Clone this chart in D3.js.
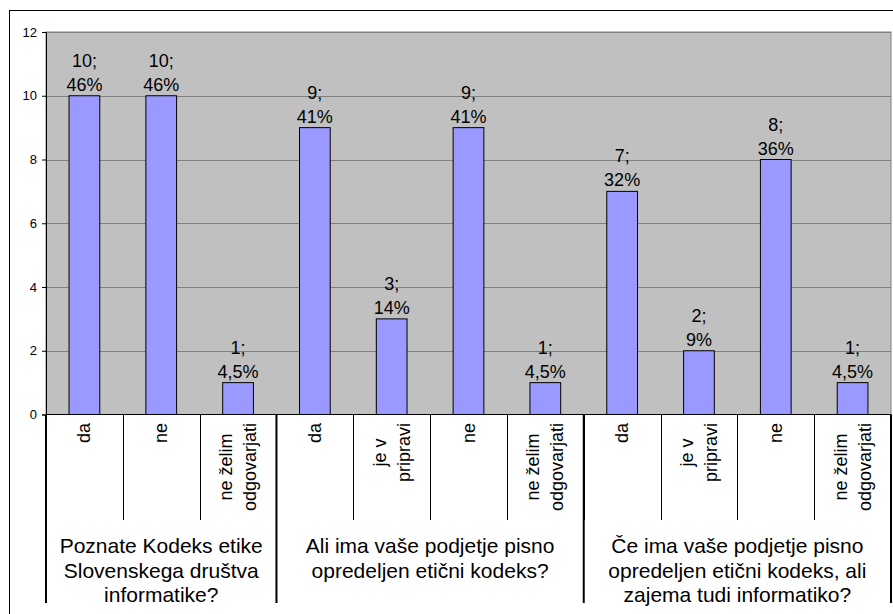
<!DOCTYPE html>
<html>
<head>
<meta charset="utf-8">
<script src="https://cdn.jsdelivr.net/npm/d3@7"></script>
<style>
  html, body { margin: 0; padding: 0; background: #fff; }
  svg { display: block; font-family: "Liberation Sans", Arial, sans-serif; }
</style>
</head>
<body>
<svg id="chart" width="893" height="614"></svg>
<script>
// Survey answers: counts per answer, with share of respondents
const categoryLabels = [
  "da", "ne", "ne želim\nodgovarjati",
  "da", "je v\npripravi", "ne", "ne želim\nodgovarjati",
  "da", "je v\npripravi", "ne", "ne želim\nodgovarjati"
];
const counts = [10, 10, 1, 9, 3, 9, 1, 7, 2, 8, 1];
const percentLabels = ["46%", "46%", "4,5%", "41%", "14%", "41%", "4,5%", "32%", "9%", "36%", "4,5%"];
const groupLabels = [
  ["Poznate Kodeks etike", "Slovenskega društva", "informatike?"],
  ["Ali ima vaše podjetje pisno", "opredeljen etični kodeks?"],
  ["Če ima vaše podjetje pisno", "opredeljen etični kodeks, ali", "zajema tudi informatiko?"]
];
const groupSizes = [3, 4, 4];
const yTicks = [0, 2, 4, 6, 8, 10, 12];

const svg = d3.select("#chart");

const plot = { left: 46, right: 891, top: 32, bottom: 414.5 };
const idx = d3.range(counts.length);

const x = d3.scaleBand().domain(idx).range([plot.left, plot.right]).padding(0);
const y = d3.scaleLinear().domain([0, 12]).range([plot.bottom, plot.top]);

// outer frame
svg.append("rect")
  .attr("x", 9.5).attr("y", 10.5)
  .attr("width", 1000).attr("height", 1000)
  .attr("fill", "#fff").attr("stroke", "#000").attr("stroke-width", 1);

// plot area
svg.append("rect")
  .attr("x", plot.left).attr("y", plot.top)
  .attr("width", plot.right - plot.left).attr("height", plot.bottom - plot.top)
  .attr("fill", "#c0c0c0").attr("stroke", "#808080").attr("stroke-width", 1);

// gridlines
svg.append("g")
  .selectAll("line")
  .data(yTicks.filter(d => d > 0))
  .join("line")
  .attr("x1", plot.left).attr("x2", plot.right)
  .attr("y1", d => Math.round(y(d)) + 0.5).attr("y2", d => Math.round(y(d)) + 0.5)
  .attr("stroke", "#808080").attr("stroke-width", 1);

// y axis
const yAxis = svg.append("g")
  .attr("transform", `translate(${plot.left},0)`)
  .call(d3.axisLeft(y).tickValues(yTicks).tickSize(4).tickPadding(5).tickFormat(d3.format("d")));
yAxis.select(".domain").attr("stroke", "#000");
yAxis.selectAll(".tick line").attr("stroke", "#000");
yAxis.selectAll(".tick text")
  .attr("font-family", "Liberation Sans, Arial, sans-serif")
  .attr("font-size", 13).attr("fill", "#000");

// bars
const barW = x.bandwidth() * 0.4;
svg.append("g")
  .selectAll("rect")
  .data(idx)
  .join("rect")
  .attr("x", i => x(i) + (x.bandwidth() - barW) / 2)
  .attr("y", i => y(counts[i]))
  .attr("width", barW)
  .attr("height", i => y(0) - y(counts[i]))
  .attr("fill", "#9999ff").attr("stroke", "#000").attr("stroke-width", 1);

// value labels above bars
const vl = svg.append("g")
  .attr("font-size", 18).attr("text-anchor", "middle").attr("fill", "#000");
idx.forEach(i => {
  const cx = x(i) + x.bandwidth() / 2;
  const top = y(counts[i]);
  vl.append("text").attr("x", cx).attr("y", top - 29).text(counts[i] + ";");
  vl.append("text").attr("x", cx).attr("y", top - 5).text(percentLabels[i]);
});

// x axis baseline
svg.append("line")
  .attr("x1", plot.left).attr("x2", plot.right)
  .attr("y1", plot.bottom).attr("y2", plot.bottom)
  .attr("stroke", "#000").attr("stroke-width", 1);

// category separators
const sepBottom = 520, groupBottom = 603;
svg.append("g")
  .selectAll("line")
  .data(idx.slice(1))
  .join("line")
  .attr("x1", i => Math.round(x(i)) + 0.5).attr("x2", i => Math.round(x(i)) + 0.5)
  .attr("y1", plot.bottom).attr("y2", sepBottom)
  .attr("stroke", "#000").attr("stroke-width", 1);

// group separators
const groupStarts = [];
let acc = 0;
groupSizes.forEach(s => { groupStarts.push(acc); acc += s; });
const groupEdges = groupStarts.map(s => x(s)).concat([plot.right]);
svg.append("g")
  .selectAll("line")
  .data(groupEdges)
  .join("line")
  .attr("x1", d => d).attr("x2", d => d)
  .attr("y1", plot.bottom).attr("y2", groupBottom)
  .attr("stroke", "#000").attr("stroke-width", 2);

// rotated category labels
const lineGap = 24, labelTop = 423;
const cl = svg.append("g").attr("font-size", 18).attr("fill", "#000");
idx.forEach(i => {
  const lines = categoryLabels[i].split("\n");
  const cx = x(i) + x.bandwidth() / 2;
  const g = cl.append("g");
  const texts = lines.map((t, k) => g.append("text")
    .attr("text-anchor", "middle")
    .attr("dominant-baseline", "central")
    .text(t));
  const maxLen = d3.max(texts, t => t.node().getComputedTextLength());
  const cy = labelTop + maxLen / 2;
  texts.forEach((t, k) => {
    const off = (k - (lines.length - 1) / 2) * lineGap;
    t.attr("transform", `translate(${cx + off},${cy}) rotate(-90)`);
  });
});

// group labels
const gl = svg.append("g").attr("font-size", 21).attr("text-anchor", "middle").attr("fill", "#000");
groupLabels.forEach((lines, gi) => {
  const cx = (groupEdges[gi] + groupEdges[gi + 1]) / 2;
  lines.forEach((t, k) => {
    gl.append("text").attr("x", cx).attr("y", 553 + k * 24.5).text(t);
  });
});
</script>
</body>
</html>
